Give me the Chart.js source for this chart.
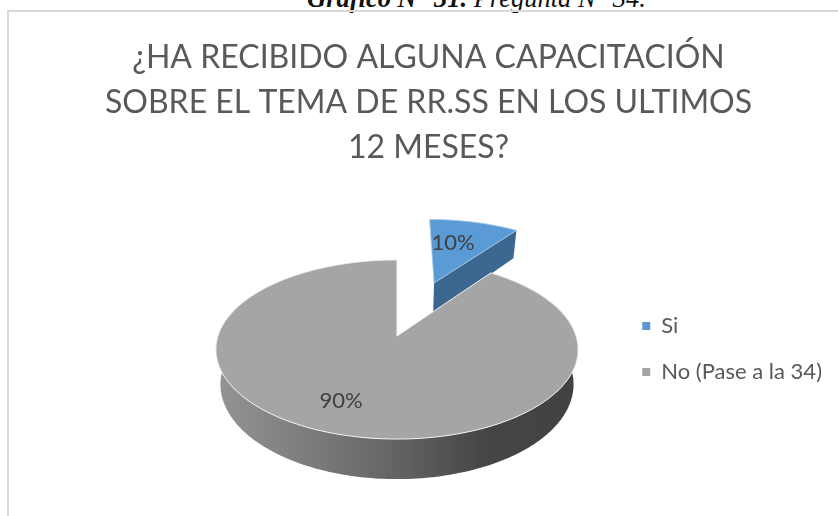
<!DOCTYPE html>
<html>
<head>
<meta charset="utf-8">
<script src="https://cdn.jsdelivr.net/npm/chart.js@4"></script>
<style>
  html, body { margin: 0; padding: 0; background: #fff; overflow: hidden; }
  #caption { position: absolute; left: 0; width: 953px; top: -17px; text-align: center; font: italic 26.5px "Liberation Serif", serif; color: #111; white-space: nowrap; }
  #frame { position: absolute; left: 7px; top: 10px; right: -10px; bottom: -10px; border-left: 2px solid #d9d9d9; border-top: 2px solid #d9d9d9; }
  canvas { position: absolute; left: 0; top: 0; }
</style>
</head>
<body>
<div id="caption"><b>Gráfico N° 31.</b> Pregunta N° 34.</div>
<div id="frame"></div>
<canvas id="pie-chart" width="838" height="516"></canvas>
<script>
const categorias = ['Si', 'No (Pase a la 34)'];
const valores = [10, 90];
const colores = ['#5b9bd5', '#a5a5a5'];
const coloresLado = ['#3b6791', null];
const tituloLineas = ['¿HA RECIBIDO ALGUNA CAPACITACIÓN', 'SOBRE EL TEMA DE RR.SS EN LOS ULTIMOS', '12 MESES?'];

// how far each slice is pulled out and where its label sits, in units of the pie radius
const explosion = [[0.228, -0.667], [0, 0]];
const posEtiqueta = [[0.373, -1.265], [-0.281, 0.668]];

// the tilted pie: a perspective view of the unit disk
const vista = { cx: 397, cy: 336, a: 179, b: 87.5, k: 0.151, alto: 34, base: 0.975 };

function proyecta(u, v) {
  const d = 1 - vista.k * v;
  return { x: vista.cx + vista.a * u / d, y: vista.cy + vista.b * v / d };
}
function proyectaBase(u, v) {
  const p = proyecta(u, v);
  return { x: vista.cx + (p.x - vista.cx) * vista.base, y: p.y + vista.alto / (1 - vista.k * v) };
}

const pie3d = {
  id: 'pie3d',
  // the legend box sits at the top of the chart area, bring it down beside the pie
  afterLayout(chart) {
    chart.legend.top += 91;
    chart.legend.bottom += 91;
  },
  beforeDatasetDraw(chart) {
    const ctx = chart.ctx;
    const arcos = chart.getDatasetMeta(0).data;
    const caras = arcos.map((arco, i) => {
      const ox = explosion[i][0], oy = explosion[i][1];
      const puntos = [];
      const n = Math.ceil((arco.endAngle - arco.startAngle) / 0.02);
      for (let j = 0; j <= n; j++) {
        const t = arco.startAngle + (arco.endAngle - arco.startAngle) * j / n;
        puntos.push([ox + Math.cos(t), oy + Math.sin(t)]);
      }
      return { ox, oy, puntos };
    });

    const traza = (lista) => {
      ctx.beginPath();
      lista.forEach((p, j) => j ? ctx.lineTo(p.x, p.y) : ctx.moveTo(p.x, p.y));
      ctx.closePath();
    };

    ctx.save();
    ctx.lineJoin = 'round';

    // the blue slice first, the grey pie covers the foot of its cut face
    const si = caras[0];
    const fin = si.puntos[si.puntos.length - 1];
    traza([proyecta(si.ox, si.oy), proyecta(fin[0], fin[1]), proyectaBase(fin[0], fin[1]), proyectaBase(si.ox, si.oy)]);
    ctx.fillStyle = coloresLado[0];
    ctx.fill();
    traza([proyecta(si.ox, si.oy)].concat(si.puntos.map(p => proyecta(p[0], p[1]))));
    ctx.fillStyle = colores[0];
    ctx.fill();
    ctx.strokeStyle = '#a9cbea';
    ctx.lineWidth = 0.8;
    ctx.stroke();

    const no = caras[1];
    const grad = ctx.createLinearGradient(218, 0, 576, 0);
    grad.addColorStop(0, '#939393');
    grad.addColorStop(0.25, '#7d7d7d');
    grad.addColorStop(0.5, '#636363');
    grad.addColorStop(0.75, '#454545');
    grad.addColorStop(1, '#424242');
    traza(no.puntos.map(p => proyecta(p[0], p[1])).concat(no.puntos.slice().reverse().map(p => proyectaBase(p[0], p[1]))));
    ctx.fillStyle = grad;
    ctx.fill();
    traza([proyecta(no.ox, no.oy)].concat(no.puntos.map(p => proyecta(p[0], p[1]))));
    ctx.fillStyle = colores[1];
    ctx.fill();
    ctx.strokeStyle = '#f2f2f2';
    ctx.lineWidth = 1;
    ctx.stroke();

    ctx.font = '22px Lato, sans-serif';
    ctx.fillStyle = '#404040';
    ctx.textAlign = 'center';
    ctx.textBaseline = 'middle';
    valores.forEach((valor, i) => {
      const p = proyecta(posEtiqueta[i][0], posEtiqueta[i][1]);
      ctx.fillText(valor + '%', p.x, p.y);
    });
    ctx.restore();
    return false;
  }
};

new Chart(document.getElementById('pie-chart').getContext('2d'), {
  type: 'pie',
  data: {
    labels: categorias,
    datasets: [{ data: valores, backgroundColor: colores, borderWidth: 0 }]
  },
  plugins: [pie3d],
  options: {
    responsive: false,
    animation: false,
    layout: { padding: { left: 25, right: 6 } },
    plugins: {
      tooltip: { enabled: false },
      title: {
        display: true,
        text: tituloLineas,
        color: '#595959',
        font: { family: 'Lato, sans-serif', size: 32, weight: 'normal', lineHeight: 1.406 },
        padding: { top: 35, bottom: 9 }
      },
      legend: {
        position: 'right',
        labels: {
          color: '#595959',
          font: { family: 'Lato, sans-serif', size: 22 },
          boxWidth: 8,
          boxHeight: 8,
          padding: 24
        }
      }
    }
  }
});
</script>
</body>
</html>
